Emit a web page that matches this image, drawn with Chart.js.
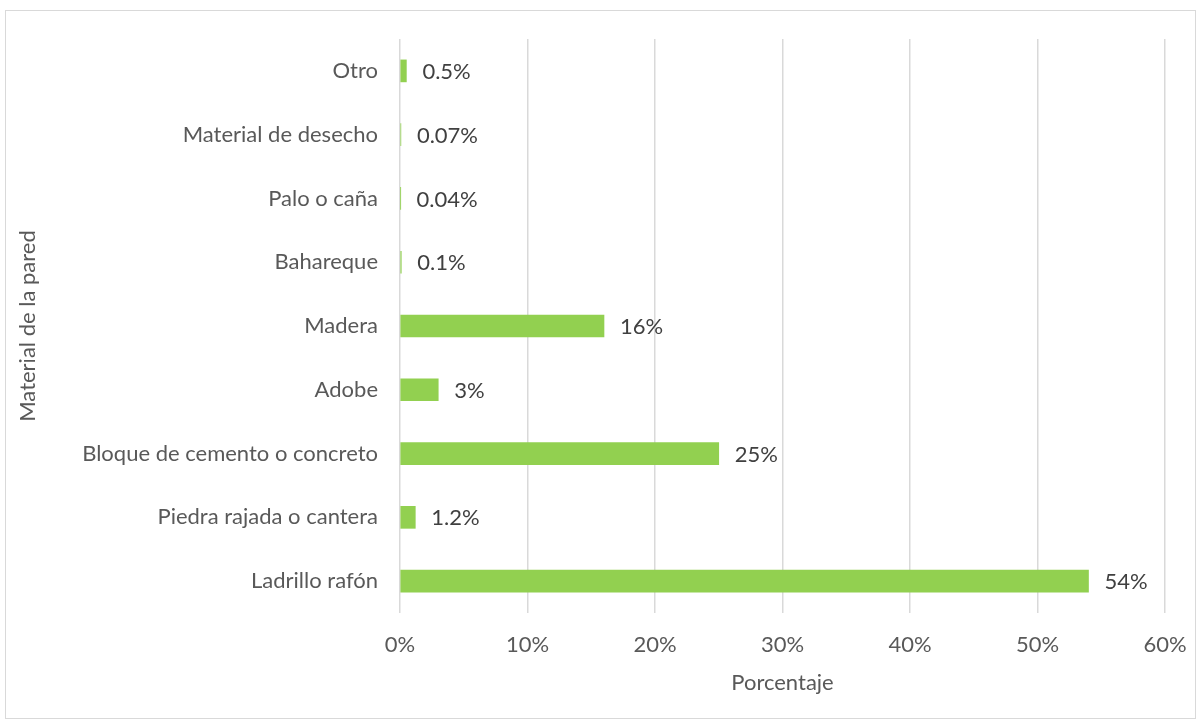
<!DOCTYPE html>
<html lang="es">
<head>
<meta charset="utf-8">
<title>Material de la pared</title>
<script src="https://cdn.jsdelivr.net/npm/chart.js@4"></script>
<style>
  html, body { margin: 0; padding: 0; background: #fff; }
  .frame {
    position: absolute;
    left: 5px;
    top: 10px;
    width: 1189px;
    height: 707px;
    border: 1.5px solid #d9d9d9;
  }
  .wrap { position: absolute; left: 0; top: 0; width: 1199px; height: 723px; }
</style>
</head>
<body>
<div class="frame"></div>
<div class="wrap"><canvas id="walls" width="1199" height="723"></canvas></div>
<script>
const materials = [
  'Otro',
  'Material de desecho',
  'Palo o caña',
  'Bahareque',
  'Madera',
  'Adobe',
  'Bloque de cemento o concreto',
  'Piedra rajada o cantera',
  'Ladrillo rafón',
];
const shares = [0.5, 0.07, 0.04, 0.1, 16, 3, 25, 1.2, 54];
const percentTicks = [0, 10, 20, 30, 40, 50, 60];

const FONT = 'Lato, "Open Sans", sans-serif';
const FONT_SIZE = 22;

// value text right after the end of each bar
const barValueLabels = {
  id: 'barValueLabels',
  afterDatasetsDraw(chart) {
    const { ctx } = chart;
    const meta = chart.getDatasetMeta(0);
    ctx.save();
    ctx.font = `${FONT_SIZE}px ${FONT}`;
    ctx.fillStyle = '#404040';
    ctx.textAlign = 'left';
    ctx.textBaseline = 'middle';
    meta.data.forEach((bar, i) => {
      ctx.fillText(`${shares[i]}%`, bar.x + 16, bar.y + 1);
    });
    ctx.restore();
  },
};

new Chart(document.getElementById('walls'), {
  type: 'bar',
  data: {
    labels: materials,
    datasets: [{
      data: shares,
      backgroundColor: '#92d050',
      barThickness: 22,
    }],
  },
  options: {
    indexAxis: 'y',
    responsive: false,
    animation: false,
    layout: {
      padding: { left: 11, right: 34, top: 39, bottom: 23 },
    },
    plugins: {
      legend: { display: false },
      tooltip: { enabled: false },
    },
    scales: {
      x: {
        min: 0,
        max: 60,
        afterBuildTicks: (scale) => {
          scale.ticks = percentTicks.map((value) => ({ value }));
        },
        afterFit: (scale) => {
          scale.height = 87;
          scale.paddingLeft = 0;
          scale.paddingRight = 0;
        },
        grid: {
          color: '#d9d9d9',
          lineWidth: 1.5,
          drawTicks: false,
        },
        border: { display: false },
        ticks: {
          padding: 19,
          color: '#595959',
          font: { family: FONT, size: FONT_SIZE },
          callback: (val) => `${val}%`,
        },
        title: {
          display: true,
          text: 'Porcentaje',
          color: '#595959',
          font: { family: FONT, size: FONT_SIZE },
        },
      },
      y: {
        afterFit: (scale) => {
          scale.width = 389;
        },
        grid: { display: false, drawTicks: false },
        border: { display: false },
        ticks: {
          padding: 22,
          color: '#595959',
          font: { family: FONT, size: FONT_SIZE },
        },
        title: {
          display: true,
          text: 'Material de la pared',
          color: '#595959',
          font: { family: FONT, size: FONT_SIZE },
        },
      },
    },
  },
  plugins: [barValueLabels],
});
</script>
</body>
</html>
